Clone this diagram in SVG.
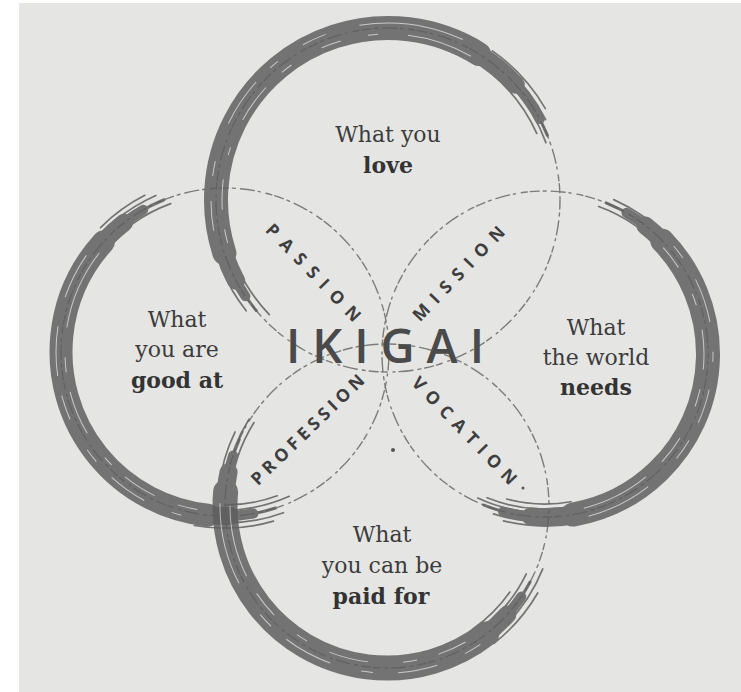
<svg xmlns="http://www.w3.org/2000/svg" width="741" height="692" viewBox="0 0 741 692">
<defs>
<style>
.paper{fill:#e5e5e3}
.dash{fill:none;stroke:#7c7c7c;stroke-width:1.4;stroke-dasharray:9 4 3 5 14 4 2 6 6 3;stroke-linecap:round}
.brush{opacity:0.84}
.br{fill:none;stroke:#5e5e5e;stroke-linecap:round}
.st{fill:none;stroke:#5e5e5e;stroke-width:1.7;stroke-linecap:round}
.tx{fill:none;stroke:#e5e5e3;stroke-width:1;stroke-opacity:0.75}
.body{font-family:"DejaVu Serif","Liberation Serif",serif;font-size:22px;fill:#3c3c3c;text-anchor:middle}
.b{font-weight:bold;fill:#333}
.lab{font-family:"Open Sans",Lato,sans-serif;font-weight:700;font-size:17.5px;fill:#3e3e3e;text-anchor:middle;dominant-baseline:central}
.iki{font-family:"Open Sans",Lato,sans-serif;font-weight:600;font-size:47px;fill:#4a4a4a}
</style>
</defs>
<rect class="paper" x="0" y="0" width="741" height="692"/>
<rect x="0" y="0" width="19" height="692" fill="#ffffff"/>
<rect x="0" y="0" width="741" height="3" fill="#ffffff"/>

<g id="outlines">
<circle class="dash" cx="388" cy="200" r="172"/>
<circle class="dash" cx="225" cy="352" r="164" style="stroke-dashoffset:17"/>
<circle class="dash" cx="545" cy="354" r="163" style="stroke-dashoffset:31"/>
<circle class="dash" cx="387" cy="506" r="162" style="stroke-dashoffset:9"/>
</g>

<g id="node-love">
<g class="brush">
<circle class="br" cx="388" cy="200" r="172" stroke-width="3" stroke-dasharray="594 3000" transform="rotate(140 388 200)"/>
<circle class="br" cx="388" cy="200" r="172" stroke-width="10" stroke-dasharray="558 3000" transform="rotate(146 388 200)"/>
<circle class="br" cx="388" cy="200" r="172" stroke-width="18" stroke-dasharray="498 3000" transform="rotate(152 388 200)"/>
<circle class="br" cx="388" cy="200" r="172" stroke-width="24" stroke-dasharray="420 3000" transform="rotate(162 388 200)"/>
<circle class="st" cx="388" cy="200" r="163" stroke-dasharray="102 3000" transform="rotate(300 388 200)"/>
<circle class="st" cx="388" cy="200" r="168" stroke-dasharray="132 3000" transform="rotate(295 388 200)"/>
<circle class="st" cx="388" cy="200" r="177" stroke-dasharray="108 3000" transform="rotate(298 388 200)"/>
<circle class="st" cx="388" cy="200" r="182" stroke-dasharray="79 3000" transform="rotate(305 388 200)"/>
<circle class="st" cx="388" cy="200" r="165" stroke-dasharray="60 3000" transform="rotate(136 388 200)"/>
<circle class="st" cx="388" cy="200" r="180" stroke-dasharray="50 3000" transform="rotate(142 388 200)"/>
<circle class="tx" cx="388" cy="200" r="166" stroke-dasharray="14 20 30 25 8 30 40 22 12 35 20 28 10 30 67 3000" transform="rotate(165 388 200)"/>
<circle class="tx" cx="388" cy="200" r="177" stroke-dasharray="30 25 15 40 50 20 10 30 25 35 106 3000" transform="rotate(170 388 200)"/>
</g>
<text class="body" x="388" y="142">What you</text>
<text class="body b" x="388" y="173">love</text>
</g>

<g id="node-good-at">
<g class="brush">
<circle class="br" cx="225" cy="352" r="164" stroke-width="3" stroke-dasharray="504 3000" transform="rotate(72 225 352)"/>
<circle class="br" cx="225" cy="352" r="164" stroke-width="10" stroke-dasharray="458 3000" transform="rotate(80 225 352)"/>
<circle class="br" cx="225" cy="352" r="164" stroke-width="18" stroke-dasharray="412 3000" transform="rotate(88 225 352)"/>
<circle class="br" cx="225" cy="352" r="164" stroke-width="23" stroke-dasharray="361 3000" transform="rotate(96 225 352)"/>
<circle class="st" cx="225" cy="352" r="158" stroke-dasharray="88 3000" transform="rotate(66 225 352)"/>
<circle class="st" cx="225" cy="352" r="171" stroke-dasharray="78 3000" transform="rotate(70 225 352)"/>
<circle class="st" cx="225" cy="352" r="176" stroke-dasharray="80 3000" transform="rotate(74 225 352)"/>
<circle class="st" cx="225" cy="352" r="153" stroke-dasharray="53 3000" transform="rotate(70 225 352)"/>
<circle class="st" cx="225" cy="352" r="158" stroke-dasharray="88 3000" transform="rotate(218 225 352)"/>
<circle class="st" cx="225" cy="352" r="171" stroke-dasharray="96 3000" transform="rotate(214 225 352)"/>
<circle class="st" cx="225" cy="352" r="176" stroke-dasharray="55 3000" transform="rotate(225 225 352)"/>
<circle class="tx" cx="225" cy="352" r="160" stroke-dasharray="20 25 35 18 10 30 45 20 15 30 82 3000" transform="rotate(100 225 352)"/>
<circle class="tx" cx="225" cy="352" r="169" stroke-dasharray="10 30 40 22 15 35 25 20 50 30 47 3000" transform="rotate(105 225 352)"/>
</g>
<text class="body" x="177" y="327">What</text>
<text class="body" x="177" y="357">you are</text>
<text class="body b" x="177" y="388">good at</text>
</g>

<g id="node-world-needs">
<g class="brush">
<circle class="br" cx="545" cy="354" r="163" stroke-width="3" stroke-dasharray="512 3000" transform="rotate(292 545 354)"/>
<circle class="br" cx="545" cy="354" r="163" stroke-width="10" stroke-dasharray="469 3000" transform="rotate(300 545 354)"/>
<circle class="br" cx="545" cy="354" r="163" stroke-width="18" stroke-dasharray="418 3000" transform="rotate(308 545 354)"/>
<circle class="br" cx="545" cy="354" r="163" stroke-width="24" stroke-dasharray="353 3000" transform="rotate(316 545 354)"/>
<circle class="st" cx="545" cy="354" r="155" stroke-dasharray="108 3000" transform="rotate(72 545 354)"/>
<circle class="st" cx="545" cy="354" r="159" stroke-dasharray="111 3000" transform="rotate(75 545 354)"/>
<circle class="st" cx="545" cy="354" r="168" stroke-dasharray="111 3000" transform="rotate(70 545 354)"/>
<circle class="st" cx="545" cy="354" r="172" stroke-dasharray="78 3000" transform="rotate(78 545 354)"/>
<circle class="st" cx="545" cy="354" r="150" stroke-dasharray="65 3000" transform="rotate(80 545 354)"/>
<circle class="st" cx="545" cy="354" r="157" stroke-dasharray="82 3000" transform="rotate(290 545 354)"/>
<circle class="st" cx="545" cy="354" r="169" stroke-dasharray="65 3000" transform="rotate(294 545 354)"/>
<circle class="tx" cx="545" cy="354" r="159" stroke-dasharray="25 30 12 25 40 20 18 35 30 22 70 3000" transform="rotate(318 545 354)"/>
<circle class="tx" cx="545" cy="354" r="168" stroke-dasharray="15 25 45 30 10 28 35 20 22 40 67 3000" transform="rotate(320 545 354)"/>
</g>
<text class="body" x="596" y="335">What</text>
<text class="body" x="596" y="365">the world</text>
<text class="body b" x="596" y="395">needs</text>
</g>

<g id="node-paid-for">
<g class="brush">
<circle class="br" cx="387" cy="506" r="162" stroke-width="3" stroke-dasharray="498 3000" transform="rotate(28 387 506)"/>
<circle class="br" cx="387" cy="506" r="162" stroke-width="10" stroke-dasharray="464 3000" transform="rotate(34 387 506)"/>
<circle class="br" cx="387" cy="506" r="162" stroke-width="18" stroke-dasharray="424 3000" transform="rotate(42 387 506)"/>
<circle class="br" cx="387" cy="506" r="162" stroke-width="25" stroke-dasharray="376 3000" transform="rotate(52 387 506)"/>
<circle class="st" cx="387" cy="506" r="155" stroke-dasharray="87 3000" transform="rotate(26 387 506)"/>
<circle class="st" cx="387" cy="506" r="168" stroke-dasharray="97 3000" transform="rotate(22 387 506)"/>
<circle class="st" cx="387" cy="506" r="174" stroke-dasharray="67 3000" transform="rotate(30 387 506)"/>
<circle class="st" cx="387" cy="506" r="150" stroke-dasharray="52 3000" transform="rotate(35 387 506)"/>
<circle class="st" cx="387" cy="506" r="157" stroke-dasharray="77 3000" transform="rotate(184 387 506)"/>
<circle class="st" cx="387" cy="506" r="169" stroke-dasharray="59 3000" transform="rotate(186 387 506)"/>
<circle class="st" cx="387" cy="506" r="163" stroke-dasharray="63 3000" transform="rotate(190 387 506)"/>
<circle class="tx" cx="387" cy="506" r="157" stroke-dasharray="30 22 14 35 40 25 12 30 28 20 73 3000" transform="rotate(60 387 506)"/>
<circle class="tx" cx="387" cy="506" r="167" stroke-dasharray="18 30 40 25 12 32 50 20 16 38 83 3000" transform="rotate(56 387 506)"/>
</g>
<text class="body" x="382" y="542">What</text>
<text class="body" x="382" y="573">you can be</text>
<text class="body b" x="381" y="604">paid for</text>
</g>

<g id="center">
<text class="iki" x="286" y="363" textLength="198" lengthAdjust="spacing">IKIGAI</text>
<text class="lab" transform="translate(314 272) rotate(46)" textLength="128" lengthAdjust="spacing">PASSION</text>
<text class="lab" transform="translate(458 273) rotate(-46)" textLength="124" lengthAdjust="spacing">MISSION</text>
<text class="lab" transform="translate(307 429) rotate(-44)" textLength="150" lengthAdjust="spacing">PROFESSION</text>
<text class="lab" transform="translate(465 430) rotate(46)" textLength="142" lengthAdjust="spacing">VOCATION</text>
<circle cx="393" cy="450" r="2" fill="#555"/>
<circle cx="523" cy="488" r="1.5" fill="#555"/>
</g>
</svg>
